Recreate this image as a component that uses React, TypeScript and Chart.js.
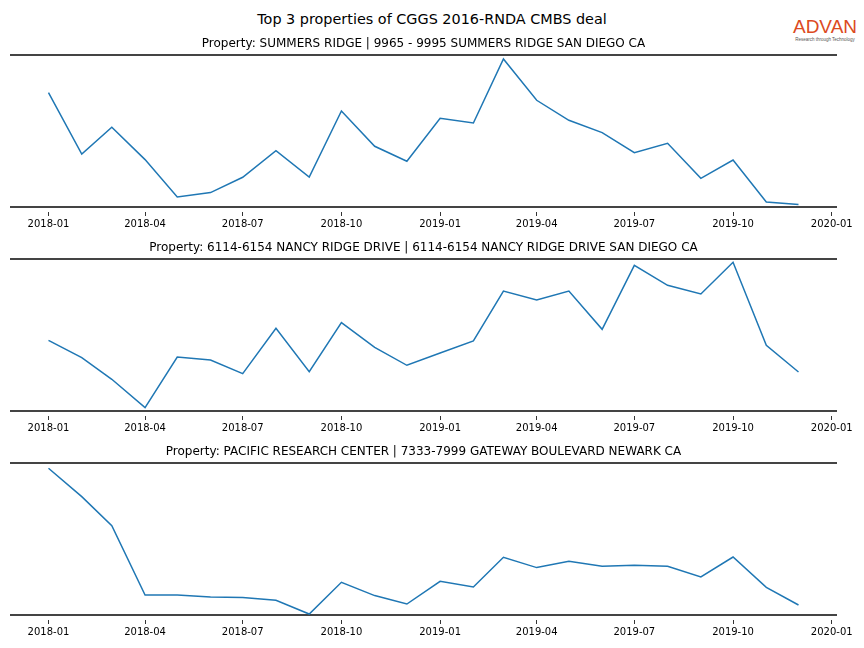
import React, { useEffect, useRef } from 'react';
import { Chart, registerables } from 'chart.js';

Chart.register(...registerables);

const MAIN_TITLE = 'Top 3 properties of CGGS 2016-RNDA CMBS deal';

const MONTHS = [
  '2018-01', '2018-02', '2018-03', '2018-04', '2018-05', '2018-06',
  '2018-07', '2018-08', '2018-09', '2018-10', '2018-11', '2018-12',
  '2019-01', '2019-02', '2019-03', '2019-04', '2019-05', '2019-06',
  '2019-07', '2019-08', '2019-09', '2019-10', '2019-11', '2019-12',
];

const TICK_LABELS = [
  '2018-01', '2018-04', '2018-07', '2018-10',
  '2019-01', '2019-04', '2019-07', '2019-10', '2020-01',
];

const PANEL_TITLES = [
  'Property: SUMMERS RIDGE | 9965 - 9995 SUMMERS RIDGE SAN DIEGO CA',
  'Property: 6114-6154 NANCY RIDGE DRIVE | 6114-6154 NANCY RIDGE DRIVE SAN DIEGO CA',
  'Property: PACIFIC RESEARCH CENTER | 7333-7999 GATEWAY BOULEVARD NEWARK CA',
];

const SUMMERS_RIDGE = [
  114.4, 53.0, 79.7, 47.4, 10.0, 14.4, 29.7, 56.4, 30.0, 96.0, 60.7, 45.7,
  88.7, 84.0, 148.0, 106.7, 86.7, 74.4, 54.4, 63.7, 28.7, 47.0, 5.0, 2.4,
];

const NANCY_RIDGE = [
  70.7, 53.4, 31.7, 3.4, 54.0, 51.0, 37.4, 82.7, 39.4, 88.4, 63.7, 45.7,
  58.0, 70.0, 120.0, 111.0, 120.0, 81.7, 145.7, 125.7, 117.0, 148.7, 65.7, 39.0,
];

const PACIFIC_RESEARCH = [
  146.7, 118.4, 89.4, 20.0, 20.0, 18.0, 17.4, 14.7, 1.0, 32.7, 19.4, 11.0,
  33.7, 28.0, 57.7, 47.4, 53.7, 48.7, 49.7, 48.7, 38.0, 58.0, 27.7, 10.0,
];

const SERIES = [SUMMERS_RIDGE, NANCY_RIDGE, PACIFIC_RESEARCH];

const Y_MIN = 0;
const Y_MAX = 152;

const toDay = (s: string) => {
  const [y, m] = s.split('-').map(Number);
  return Date.UTC(y, m - 1, 1) / 86400000;
};

const FONT = "'DejaVu Sans', sans-serif";
const PANEL_TOPS = [32, 236, 440];
const PANEL_H = 204;

function Panel({ title, values, top }: { title: string; values: number[]; top: number }) {
  const ref = useRef<HTMLCanvasElement>(null);
  useEffect(() => {
    const days = MONTHS.map(toDay);
    const first = days[0];
    const last = days[days.length - 1];
    const margin = 0.05 * (last - first);
    const tickDays = TICK_LABELS.map(toDay);
    const chart = new Chart(ref.current as HTMLCanvasElement, {
      type: 'line',
      data: {
        datasets: [
          {
            data: days.map((d, i) => ({ x: d, y: values[i] })),
            borderColor: '#1f77b4',
            borderWidth: 1.5,
            pointRadius: 0,
            fill: false,
            tension: 0,
          },
        ],
      },
      options: {
        responsive: false,
        animation: false,
        devicePixelRatio: 1,
        layout: { padding: { left: 11, right: 28, top: 0, bottom: 3 } },
        plugins: {
          legend: { display: false },
          tooltip: { enabled: false },
          title: {
            display: true,
            text: title,
            color: '#000',
            font: { family: FONT, size: 12, weight: 'normal' as any },
            padding: { top: 5, bottom: 3.6 },
          },
        },
        scales: {
          x: {
            type: 'linear',
            position: 'bottom',
            min: first - margin,
            max: last + margin,
            afterBuildTicks: (scale: any) => {
              scale.ticks = tickDays.map((v) => ({ value: v }));
            },
            ticks: {
              autoSkip: false,
              maxRotation: 0,
              padding: 2.5,
              color: '#000',
              font: { family: FONT, size: 10 },
              callback: (value: any) => {
                const idx = tickDays.indexOf(Number(value));
                return idx >= 0 ? TICK_LABELS[idx] : '';
              },
            },
            grid: {
              display: true,
              drawOnChartArea: false,
              drawTicks: true,
              tickLength: 9,
              tickColor: '#000',
              tickWidth: 0.8,
              tickBorderDash: [0, 4, 5, 100],
            },
            border: { display: true, color: '#444', width: 2 },
          },
          xTop: {
            type: 'linear',
            position: 'top',
            min: 0,
            max: 1,
            ticks: { display: false },
            grid: { display: false, drawTicks: false },
            border: { display: true, color: '#444', width: 2 },
          },
          y: { display: false, min: Y_MIN, max: Y_MAX },
        },
      } as any,
    });
    return () => chart.destroy();
  }, [title, values]);
  return (
    <canvas
      ref={ref}
      width={864}
      height={PANEL_H}
      style={{ position: 'absolute', left: 0, top, width: 864, height: PANEL_H }}
    />
  );
}

export default function App() {
  return (
    <div
      style={{
        position: 'absolute',
        left: 0,
        top: 0,
        width: 864,
        height: 648,
        background: '#fff',
        overflow: 'hidden',
        fontFamily: FONT,
      }}
    >
      <div
        style={{
          position: 'absolute',
          left: 0,
          top: 10,
          width: 864,
          textAlign: 'center',
          fontSize: 14.4,
          lineHeight: '18px',
          color: '#000',
        }}
      >
        {MAIN_TITLE}
      </div>
      <div
        style={{
          position: 'absolute',
          left: 790,
          top: 17,
          width: 70,
          textAlign: 'center',
          color: '#dc4a22',
          fontFamily: "'Liberation Sans', Arial, sans-serif",
        }}
      >
        <div style={{ fontSize: 19, lineHeight: '20px', letterSpacing: 0 }}>ADVAN</div>
        <div style={{ fontSize: 4.5, lineHeight: '5px', color: '#555', whiteSpace: 'nowrap' }}>
          Research through Technology
        </div>
      </div>
      {PANEL_TITLES.map((t, i) => (
        <Panel key={i} title={t} values={SERIES[i]} top={PANEL_TOPS[i]} />
      ))}
    </div>
  );
}
